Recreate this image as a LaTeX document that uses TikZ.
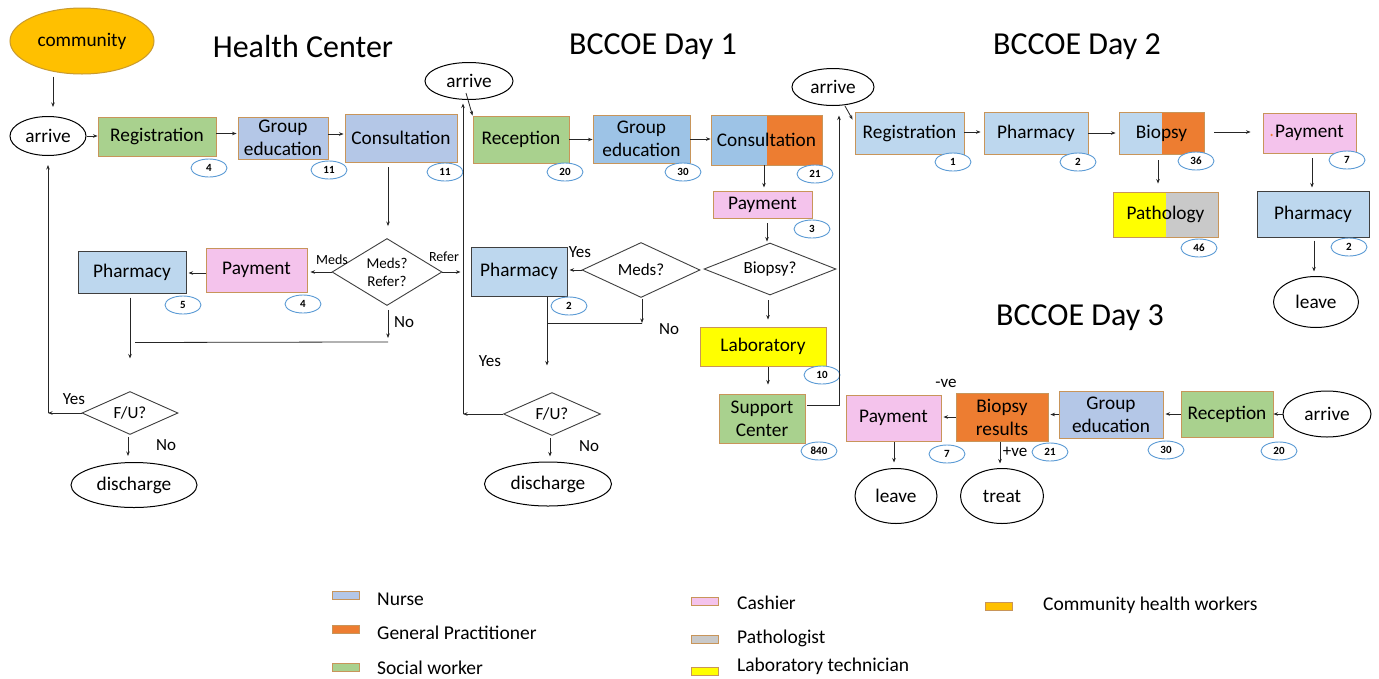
\documentclass[tikz,border=0pt]{standalone}
\usepackage{fontspec}
\setmainfont{Carlito}
\usetikzlibrary{shapes.geometric,arrows.meta,calc}
\definecolor{nurse}{HTML}{B4C7E7}
\definecolor{nurseb}{HTML}{9DC3E6}
\definecolor{pharm}{HTML}{BDD7EE}
\definecolor{social}{HTML}{A9D18E}
\definecolor{gp}{HTML}{ED7D31}
\definecolor{cash}{HTML}{F4C3EC}
\definecolor{patho}{HTML}{C9C9C9}
\definecolor{labt}{HTML}{FFFF00}
\definecolor{chw}{HTML}{FFC000}
\definecolor{chwb}{HTML}{C99A2E}
\definecolor{tanb}{HTML}{C8955A}
\definecolor{badgeb}{HTML}{5B9BD5}
\definecolor{darkb}{HTML}{3F3F3F}
\newcommand{\fsmain}{\fontsize{19.3}{23}\selectfont}
\newcommand{\fslab}{\fontsize{17}{20}\selectfont}
\newcommand{\fssmall}{\fontsize{14}{17}\selectfont}
\newcommand{\fsdia}{\fontsize{15}{18}\selectfont}
\newcommand{\fsbadge}{\fontsize{11}{13}\selectfont\bfseries}
\newcommand{\fstitle}{\fontsize{32}{38}\selectfont}
\newcommand{\fsleg}{\fontsize{19.5}{22}\selectfont}
\begin{document}
\begin{tikzpicture}[x=1pt,y=-1pt,
  box/.style={draw=tanb, line width=0.9pt, inner sep=0pt, align=center, font=\fsmain},
  pbox/.style={draw=darkb, line width=1pt, fill=pharm, inner sep=0pt, align=center, font=\fsmain},
  splitbox/.style 2 args={draw=tanb, line width=0.9pt, inner sep=0pt, align=center, font=\fsmain,
    path picture={\fill[#1] (path picture bounding box.south west) rectangle (path picture bounding box.north);
      \fill[#2] (path picture bounding box.north) rectangle (path picture bounding box.south east);}},
  oval/.style={ellipse, draw=black, line width=1pt, fill=white, inner sep=0pt, font=\fsmain},
  dia/.style={diamond, draw=darkb, line width=0.9pt, fill=white, inner sep=0pt, aspect=2, align=center, font=\fslab},
  badge/.style={ellipse, draw=badgeb, line width=0.9pt, fill=white, inner sep=0pt, minimum width=36pt, minimum height=18pt, font=\fsbadge},
  lab/.style={inner sep=0pt, font=\fslab},
  ttl/.style={inner sep=0pt, font=\fstitle},
  sw/.style={draw=tanb, line width=0.8pt, inner sep=0pt, minimum width=27pt, minimum height=8pt},
  leg/.style={inner sep=0pt, anchor=west, font=\fsleg},
  arr/.style={draw=black!85, line width=0.8pt, -{Stealth[length=4.5pt,width=3.5pt]}},
  ln/.style={draw=black!85, line width=0.8pt}]
\useasboundingbox[fill=white] (0,0) rectangle (1379,678);

% ---------------- titles
\node[ttl] (t1) at (303,47) {Health Center};
\node[ttl] (t2) at (653,47) {BCCOE Day 1};
\node[ttl] (t3) at (1077,47) {BCCOE Day 2};
\node[ttl] (t4) at (1080,318) {BCCOE Day 3};

% ---------------- Health Center
\node[ellipse, draw=chwb, line width=1pt, fill=chw, inner sep=0pt, font=\fsmain, minimum width=144pt, minimum height=66pt] (comm) at (82,41) {community};
\node[oval, minimum width=76pt, minimum height=39pt] (arr1) at (48,136) {arrive};
\node[box, fill=social, minimum width=118pt, minimum height=39pt] (reg1) at (157,136.5) {Registration};
\node[badge] (breg1) at (209,168) {4};
\node[box, fill=nurse, minimum width=90pt, minimum height=42pt] (ge1) at (283,138) {Group\\education};
\node[badge] (bge1) at (329,170) {11};
\node[box, fill=nurse, minimum width=112pt, minimum height=48pt] (con1) at (401,138) {Consultation};
\node[badge] (bcon1) at (445,172) {11};
\node[dia, font=\fsdia, minimum width=110pt, minimum height=67pt] (dmr) at (387,272) {Meds?\\Refer?};
\node[box, fill=cash, minimum width=101pt, minimum height=44pt] (pay1) at (256.5,270) {Payment};
\node[badge] (bpay1) at (303,304) {4};
\node[pbox, minimum width=108pt, minimum height=42pt] (ph1) at (132,272) {Pharmacy};
\node[badge] (bph1) at (183,305) {5};
\node[dia, minimum width=96pt, minimum height=43pt] (fu1) at (130,413) {F/U?};
\node[oval, minimum width=126pt, minimum height=45pt] (dis1) at (134,485) {discharge};
\node[lab, font=\fssmall] (lmeds) at (332,260) {Meds};
\node[lab, font=\fssmall] (lrefer) at (444,257) {Refer};
\node[lab] (lno1) at (404,322) {No};
\node[lab] (lyes1) at (74,399) {Yes};
\node[lab] (lno2) at (166,445) {No};

\draw[arr] ($(comm.south)+(-29,2)$) -- ($(arr1.north)+(5,-9)$);
\draw[arr] (arr1.east) -- (arr1.east -| reg1.west);
\draw[arr] ($(reg1.east)+(0,-3)$) -- ($(reg1.east -| ge1.west)+(-1,-3)$);
\draw[arr] ($(ge1.east)+(0,-4)$) -- ($(ge1.east -| con1.west)+(-1,-4)$);
\draw[arr] ($(con1.south)+(-13,5)$) -- ($(dmr.north)+(1,-12)$);
\draw[arr, shorten >=3pt] (dmr.west) -- (dmr.west -| pay1.east);
\draw[arr, shorten >=2pt] ($(pay1.west)+(0,3)$) -- ($(pay1.west -| ph1.east)+(0,3)$);
\draw[arr] (dmr.east) -- ($(dmr.east)+(18,0)$);
\draw[arr] ($(dmr.south)+(1,4)$) -- ($(dmr.south)+(1,32)$);
\draw[ln] ($(dmr.south)+(1,36)$) -- ($(ph1.south)+(3,49)$);
\draw[arr] ($(ph1.south)+(-2,4)$) -- ($(ph1.south)+(-2,65)$);
\coordinate (up1) at ($(arr1.south)+(0,9)$);
\draw[arr] (fu1.west) -- (fu1.west -| up1);
\draw[arr] (fu1.west -| up1) -- (up1);
\draw[arr] ($(fu1.south)+(-2,2)$) -- ($(dis1.north)+(-6,-6)$);

% ---------------- BCCOE Day 1
\node[oval, minimum width=88pt, minimum height=37pt] (arr2) at (469,81) {arrive};
\node[box, fill=social, minimum width=96pt, minimum height=47pt] (rec2) at (521,139.5) {Reception};
\node[badge] (brec2) at (565,172) {20};
\node[box, fill=nurseb, minimum width=97pt, minimum height=48pt] (ge2) at (641.5,139) {Group\\education};
\node[badge] (bge2) at (683,172) {30};
\node[splitbox={nurseb}{gp}, minimum width=111pt, minimum height=50pt] (con2) at (766.5,140) {Consultation};
\node[badge] (bcon2) at (815,174) {21};
\node[box, fill=cash, minimum width=99pt, minimum height=27pt] (pay2) at (762.5,204.5) {Payment};
\node[badge] (bpay2) at (812,229) {3};
\node[dia, minimum width=132pt, minimum height=52pt] (dbio) at (770,269) {Biopsy?};
\node[dia, minimum width=118pt, minimum height=55pt] (dmeds) at (641,270) {Meds?};
\node[pbox, minimum width=96pt, minimum height=49pt] (ph2) at (519,271.5) {Pharmacy};
\node[badge] (bph2) at (569,306) {2};
\node[dia, minimum width=97pt, minimum height=43pt] (fu2) at (552,414) {F/U?};
\node[oval, minimum width=127pt, minimum height=44pt] (dis2) at (548,484) {discharge};
\node[box, fill=labt, minimum width=126pt, minimum height=39pt] (lab) at (763,346.5) {Laboratory};
\node[badge] (blab) at (822,375) {10};
\node[box, fill=social, minimum width=86pt, minimum height=49pt] (sup) at (762,418.5) {Support\\Center};
\node[badge] (bsup) at (819,451) {840};
\node[lab] (lyes2) at (580,252) {Yes};
\node[lab] (lno3) at (669,329) {No};
\node[lab] (lyes3) at (490,361) {Yes};
\node[lab] (lno4) at (589,446) {No};

\draw[arr] ($(arr2.south)+(-3,-7)$) -- (rec2.north west);
\draw[arr] (rec2.east) -- (rec2.east -| ge2.west);
\draw[arr] (ge2.east) -- (ge2.east -| con2.west);
\draw[arr] ($(con2.south)+(-2.5,0)$) -- ($(con2.south)+(-2.5,22)$);
\draw[arr] ($(pay2.south)+(4.5,5)$) -- ($(dbio.north)+(-3,-1)$);
\draw[arr, shorten >=2pt] (dmeds.west) -- (dmeds.west -| ph2.east);
\draw[arr] ($(dmeds.south)+(1,1)$) -- ($(dmeds.south)+(1,25)$);
\draw[ln] ($(dmeds.south)+(1,25.5)$) -- ($(ph2.south)+(28,27)$);
\draw[arr] ($(ph2.south)+(28,0)$) -- ($(ph2.south)+(28,69)$);
\coordinate (up2) at ($(arr2.south)+(-6,3.5)$);
\draw[arr] (fu2.west) -- (fu2.west -| up2);
\draw[arr] (fu2.west -| up2) -- (up2);
\draw[arr] ($(fu2.south)+(-2,2)$) -- ($(dis2.north)+(2,-5)$);
\draw[arr] ($(dbio.south)+(-2,5)$) -- ($(lab.north)+(5,-7)$);
\draw[arr] ($(lab.south)+(5,1)$) -- ($(sup.north)+(6,-9)$);

% ---------------- BCCOE Day 2
\node[oval, minimum width=82pt, minimum height=37pt] (arr3) at (833,87) {arrive};
\node[box, fill=pharm, minimum width=109pt, minimum height=42pt] (reg3) at (909.5,133) {Registration};
\node[badge] (breg3) at (953,162) {1};
\node[box, fill=pharm, minimum width=104pt, minimum height=42pt] (ph3) at (1036,133) {Pharmacy};
\node[badge] (bph3) at (1078,162) {2};
\node[splitbox={pharm}{gp}, minimum width=85pt, minimum height=42pt] (bio3) at (1161.5,133) {Biopsy};
\node[badge] (bbio3) at (1196,161) {36};
\node[box, fill=cash, minimum width=93pt, minimum height=40pt] (pay3) at (1309.5,133) {Payment};
\node[badge] (bpay3) at (1347,160) {7};
\node[splitbox={labt}{patho}, minimum width=105pt, minimum height=45pt] (path3) at (1165.5,214.5) {Pathology};
\node[badge] (bpath3) at (1199,248) {46};
\node[pbox, minimum width=112pt, minimum height=46pt] (ph4) at (1313,214) {Pharmacy};
\node[badge] (bph4) at (1349,247) {2};
\node[oval, minimum width=85pt, minimum height=51pt] (leave4) at (1316,302) {leave};
\fill[gp] ($(pay3.west)+(9,2)$) circle (1.3);

\coordinate (up3) at ($(arr3.south)+(6,9.5)$);
\draw[arr] ($(sup.east)+(2,-13.5)$) -| (up3);
\draw[arr] ($(arr3.south)+(12,0)$) -- ($(reg3.north west)+(-2,8)$);
\draw[arr, shorten >=3pt] ($(reg3.east)+(0,-1)$) -- ($(reg3.east -| ph3.west)+(0,-1)$);
\draw[arr, shorten >=3pt] (ph3.east) -- (bio3.west);
\draw[arr, shorten <=10pt, shorten >=12pt] ($(bio3.east)+(0,-1)$) -- ($(bio3.east -| pay3.west)+(0,-1)$);
\draw[arr] ($(bio3.south)+(-3.5,6)$) -- ($(path3.north)+(-7.5,-8)$);
\draw[arr] ($(pay3.south)+(2.5,5)$) -- ($(ph4.north)+(-1,-3)$);
\draw[arr] ($(ph4.south)+(1,3)$) -- ($(leave4.north)+(-2,-4.5)$);

% ---------------- BCCOE Day 3
\node[oval, minimum width=88pt, minimum height=46pt] (arr5) at (1327,414) {arrive};
\node[box, fill=social, minimum width=92pt, minimum height=46pt] (rec5) at (1227,414) {Reception};
\node[badge] (brec5) at (1279,451) {20};
\node[box, fill=nurse, minimum width=104pt, minimum height=47pt] (ge5) at (1111,414.5) {Group\\education};
\node[badge] (bge5) at (1166,450) {30};
\node[box, fill=gp, minimum width=92pt, minimum height=48pt] (br5) at (1002,417) {Biopsy\\results};
\node[badge] (bbr5) at (1050,452) {21};
\node[box, fill=cash, minimum width=95pt, minimum height=46pt] (pay5) at (893.5,418) {Payment};
\node[badge] (bpay5) at (947,454) {7};
\node[oval, minimum width=82pt, minimum height=55pt] (leave5) at (896,496) {leave};
\node[oval, minimum width=83pt, minimum height=55pt] (treat) at (1002,496) {treat};
\node[lab] (lneg) at (946,383) {-ve};
\node[lab] (lpos) at (1015,452) {+ve};

\draw[arr] (arr5.west) -- (arr5.west -| rec5.east);
\draw[arr, shorten >=2pt] (rec5.west) -- (rec5.west -| ge5.east);
\draw[arr, shorten >=2pt] (ge5.west) -- (ge5.west -| br5.east);
\draw[arr, shorten >=2pt] (br5.west) -- (br5.west -| pay5.east);
\draw[arr] ($(pay5.south)+(0.5,1)$) -- ($(leave5.north)+(-2,-5.5)$);
\draw[arr] ($(br5.south)+(-2,1)$) -- ($(treat.north)+(-2,-4.5)$);

% ---------------- legend
\node[sw, fill=nurse] (sw1) at (346,595.5) {};
\node[leg] (lg1) at (377,599) {Nurse};
\node[sw, fill=gp] (sw2) at (346,629) {};
\node[leg] (lg2) at (377,633) {General Practitioner};
\node[sw, fill=social] (sw3) at (346,667) {};
\node[leg] (lg3) at (377,668) {Social worker};
\node[sw, fill=cash] (sw4) at (705,601) {};
\node[leg] (lg4) at (737,603) {Cashier};
\node[sw, fill=patho] (sw5) at (705,639) {};
\node[leg] (lg5) at (737,638) {Pathologist};
\node[sw, fill=labt] (sw6) at (705,671) {};
\node[leg] (lg6) at (737,666) {Laboratory technician};
\node[sw, fill=chw] (sw7) at (999,606) {};
\node[leg] (lg7) at (1043,605) {Community health workers};
\end{tikzpicture}
\end{document}
